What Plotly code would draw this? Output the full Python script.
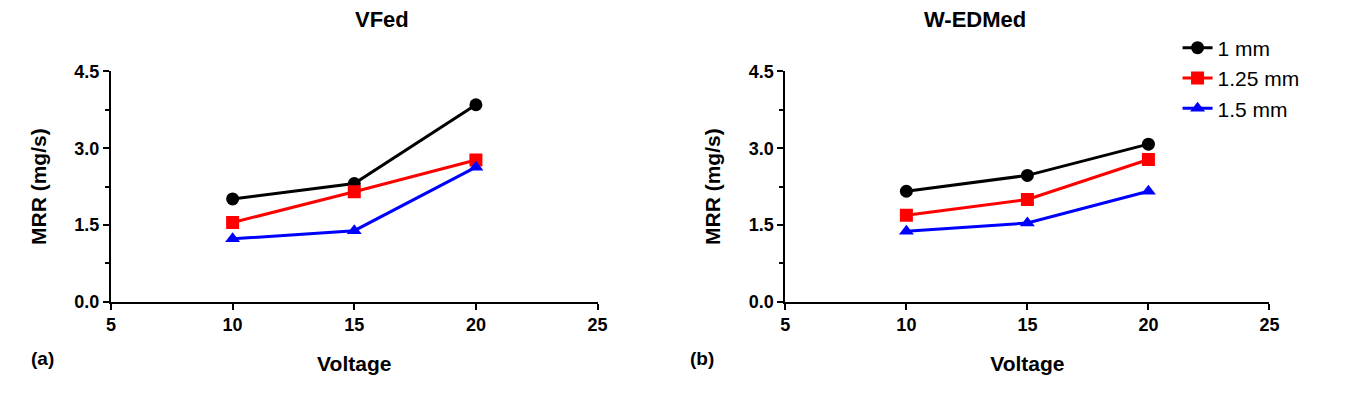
import plotly.graph_objects as go

voltage = [10, 15, 20]
series_names = ["1 mm", "1.25 mm", "1.5 mm"]
vfed_1 = [2.01, 2.31, 3.85]
vfed_125 = [1.55, 2.15, 2.77]
vfed_15 = [1.23, 1.39, 2.63]
wed_1 = [2.16, 2.47, 3.08]
wed_125 = [1.69, 2.00, 2.78]
wed_15 = [1.38, 1.54, 2.16]
titles = ["VFed", "W-EDMed"]
colors = ["black", "#ff0000", "#0000ff"]
symbols = ["circle", "square", "triangle-up"]

fig = go.Figure()
panels = [(vfed_1, vfed_125, vfed_15), (wed_1, wed_125, wed_15)]
for p, data in enumerate(panels):
    for i, ys in enumerate(data):
        fig.add_trace(go.Scatter(
            x=voltage, y=ys, mode="lines+markers", name=series_names[i],
            showlegend=(p == 0),
            line=dict(color=colors[i], width=3),
            marker=dict(symbol=symbols[i], size=13, color=colors[i]),
            xaxis="x" if p == 0 else "x2", yaxis="y" if p == 0 else "y2"))

font = dict(family="Liberation Sans, Arial", color="black")
ax = dict(showgrid=False, zeroline=False, showline=True, linecolor="black", linewidth=2,
          ticks="outside", tickwidth=2, ticklen=6, tickcolor="black",
          tickfont=dict(size=18, family="Liberation Sans, Arial", color="black", weight="bold"))
xax = dict(ax, range=[5, 25], tickvals=[5, 10, 15, 20, 25],
           title=dict(text="Voltage", font=dict(size=21, weight="bold", **font), standoff=22))
yax = dict(ax, range=[0, 4.5], tickvals=[0, 1.5, 3.0, 4.5], tickformat=".1f",
           title=dict(text="MRR (mg/s)", font=dict(size=21, weight="bold", **font), standoff=22),
           minor=dict(dtick=0.75, ticks="outside", ticklen=4, tickwidth=2, tickcolor="black"))

fig.update_layout(
    width=1366, height=402, plot_bgcolor="white", paper_bgcolor="white",
    margin=dict(l=0, r=0, t=0, b=0),
    xaxis=dict(xax, domain=[0.0725, 0.4327], anchor="y"),
    yaxis=dict(yax, domain=[0.257, 0.860], anchor="x"),
    xaxis2=dict(xax, domain=[0.5717, 0.930], anchor="y2"),
    yaxis2=dict(yax, domain=[0.257, 0.860], anchor="x2"),
    legend=dict(x=0.862, y=0.975, xanchor="left", yanchor="top",
                font=dict(size=21, **font), bgcolor="rgba(0,0,0,0)", tracegroupgap=2),
    annotations=[
        dict(text="<b>VFed</b>", x=0.252, y=0.995, xref="paper", yref="paper", yanchor="middle", showarrow=False, font=dict(size=22, **font)),
        dict(text="<b>W-EDMed</b>", x=0.751, y=0.995, xref="paper", yref="paper", yanchor="middle", showarrow=False, font=dict(size=22, **font)),
        dict(text="<b>(a)</b>", x=0.012, y=0.075, xref="paper", yref="paper", showarrow=False, font=dict(size=19, **font)),
        dict(text="<b>(b)</b>", x=0.51, y=0.075, xref="paper", yref="paper", showarrow=False, font=dict(size=19, **font)),
    ])
fig.write_html("out.html")
